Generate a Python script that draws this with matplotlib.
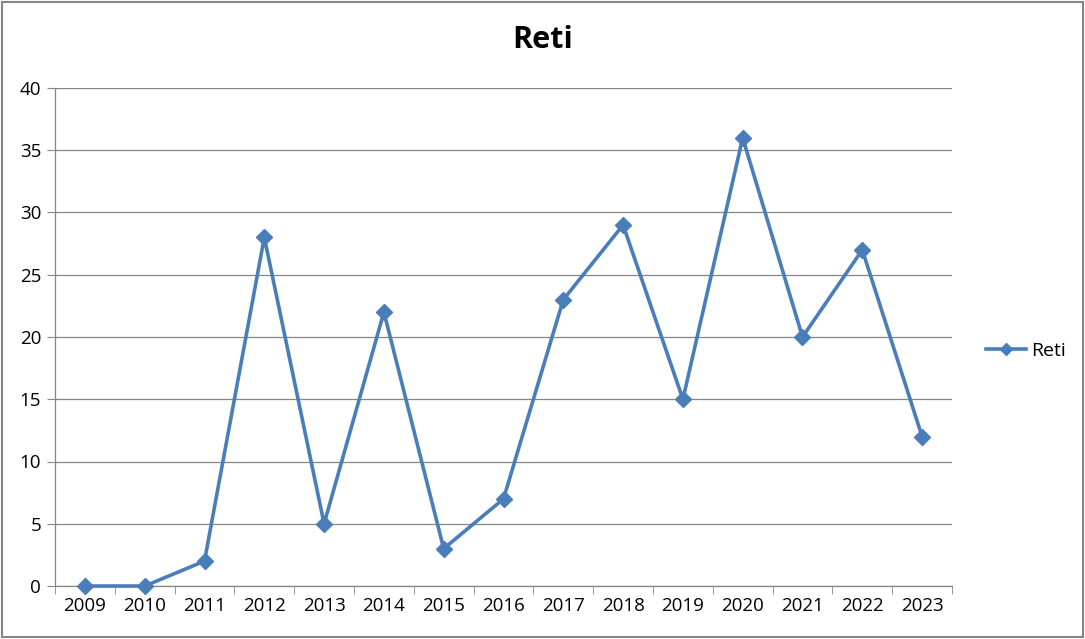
import matplotlib.pyplot as plt
from matplotlib.patches import Rectangle

plt.rcParams['font.family'] = ['Open Sans', 'DejaVu Sans']

years = ['2009', '2010', '2011', '2012', '2013', '2014', '2015', '2016',
         '2017', '2018', '2019', '2020', '2021', '2022', '2023']
reti = [0, 0, 2, 28, 5, 22, 3, 7, 23, 29, 15, 36, 20, 27, 12]
y_ticks = [0, 5, 10, 15, 20, 25, 30, 35, 40]

line_color = '#4A7EBB'
grid_color = '#868686'

fig = plt.figure(figsize=(10.85, 6.39), dpi=100)
fig.patches.append(Rectangle((0.002, 0.003), 0.996, 0.994, transform=fig.transFigure,
                             fill=False, edgecolor=grid_color, linewidth=1.5))

ax = fig.add_axes([55 / 1085, 1 - 586 / 639, 897 / 1085, 498 / 639])

x = list(range(len(years)))
ax.plot(x, reti, color=line_color, linewidth=2.6, marker='D', markersize=8,
        markerfacecolor=line_color, markeredgecolor=line_color, label='Reti',
        clip_on=False, zorder=3)

ax.set_xlim(-0.5, len(years) - 0.5)
ax.set_ylim(0, 40)
ax.set_yticks(y_ticks)
ax.set_xticks(x)
ax.set_xticklabels(years)
ax.set_xticks([i - 0.5 for i in range(len(years) + 1)], minor=True)

ax.yaxis.grid(True, color=grid_color, linewidth=0.9)
ax.set_axisbelow(True)
for side in ['top', 'right']:
    ax.spines[side].set_visible(False)
for side in ['left', 'bottom']:
    ax.spines[side].set_color(grid_color)
    ax.spines[side].set_linewidth(0.9)

ax.tick_params(axis='x', which='major', length=0, pad=8, labelsize=13.5)
ax.tick_params(axis='x', which='minor', length=6, color=grid_color, direction='out')
ax.tick_params(axis='y', length=6, color=grid_color, pad=4, labelsize=13.5)

fig.text(0.5, 1 - 40 / 639, 'Reti', ha='center', va='center',
         fontsize=22, fontweight='bold')

fig.legend(loc='center left', bbox_to_anchor=(968 / 1085, 1 - 351 / 639),
           frameon=False, fontsize=14, handlelength=2.1, handletextpad=0.25,
           markerscale=0.8)

fig.savefig('out.png', dpi=100)
